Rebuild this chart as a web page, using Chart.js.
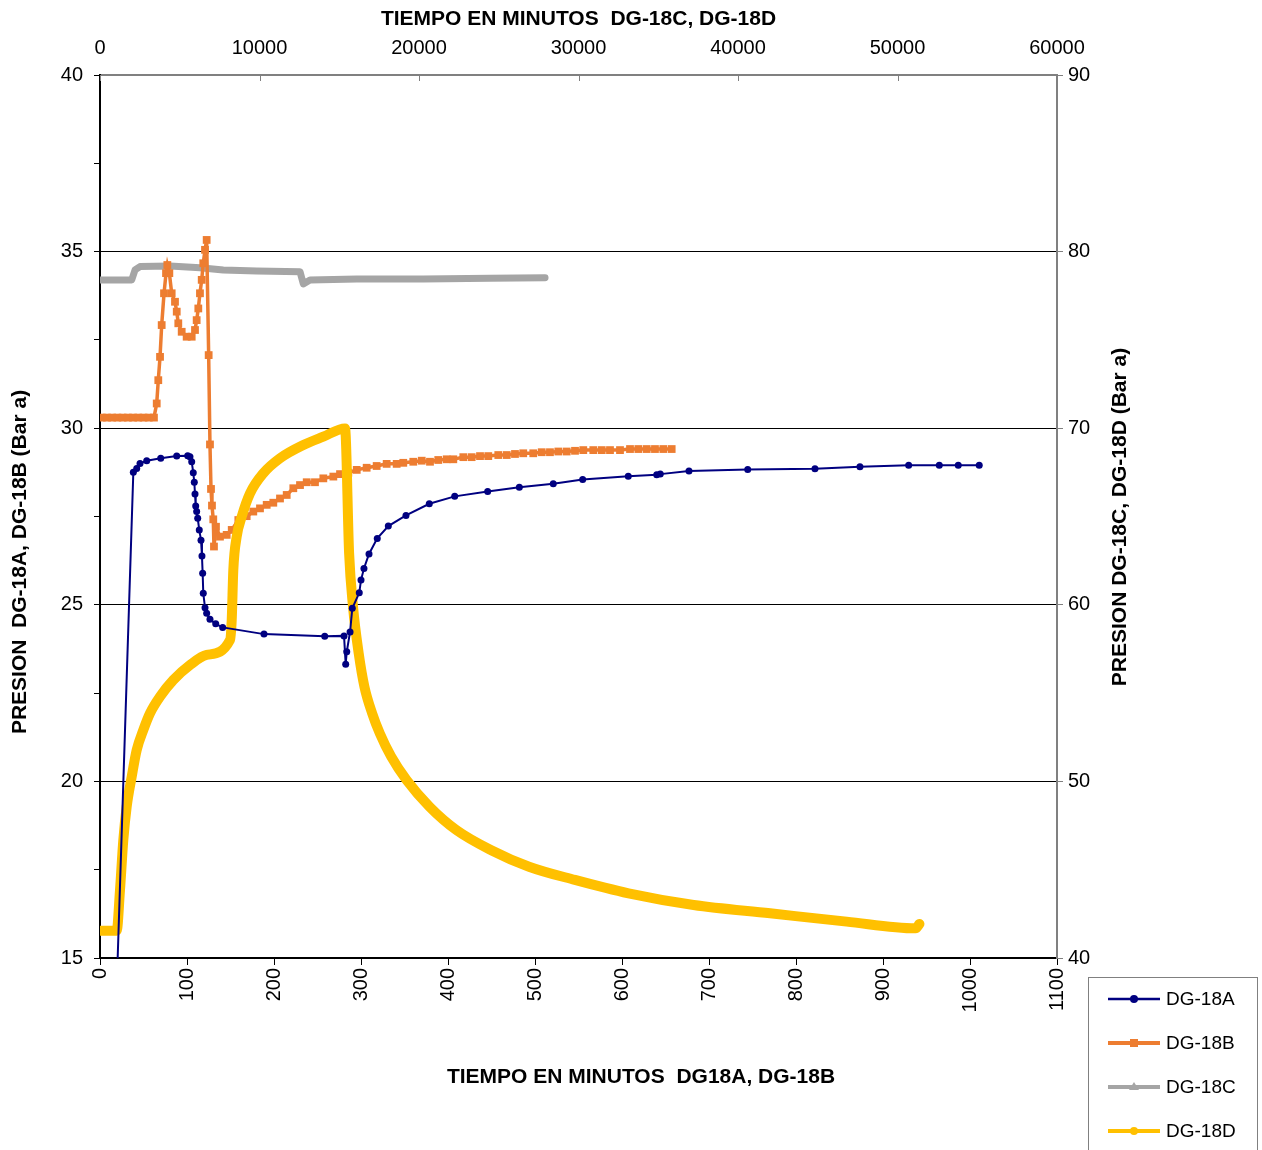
<!DOCTYPE html>
<html>
<head>
<meta charset="utf-8">
<script src="https://cdn.jsdelivr.net/npm/chart.js@4.4.1/dist/chart.umd.min.js"></script>
<style>
  body { margin: 0; background: #fff; }
  canvas { display: block; }
</style>
</head>
<body>
<canvas id="chart" width="1262" height="1150"></canvas>
<script>
// DG-18A / DG-18B : tiempo en minutos (eje inferior), presion eje izquierdo
var aTime = [19, 38.3, 42.2, 46.0, 53.7, 69.8, 88.2, 100.8, 103.4, 105.4, 107.2, 108.4, 109.2, 110.0, 111.1, 112.3,
  114.1, 116.1, 117.2, 118.0, 118.7, 120.7, 122.6, 126.4, 133.0, 141.0, 188.5, 258.3, 280.5, 282.4, 283.6, 287.4,
  290.0, 298.0, 300.0, 303.4, 309.2, 318.7, 331.4, 351.7, 378.5, 407.7, 445.6, 482.0, 521.0, 554.8, 607.2, 639.9,
  644.0, 677.0, 744.5, 821.8, 873.5, 929.5, 964.7, 986.5, 1010.6];
var aPres = [14.0, 28.75, 28.86, 29.0, 29.08, 29.15, 29.21, 29.22, 29.19, 29.05, 28.74, 28.47, 28.14, 27.80, 27.64, 27.45,
  27.12, 26.83, 26.38, 25.89, 25.33, 24.92, 24.76, 24.59, 24.46, 24.36, 24.17, 24.11, 24.12, 23.32, 23.67, 24.23,
  24.90, 25.34, 25.70, 26.03, 26.44, 26.88, 27.23, 27.53, 27.86, 28.07, 28.21, 28.33, 28.43, 28.55, 28.64, 28.68,
  28.70, 28.79, 28.83, 28.85, 28.91, 28.95, 28.95, 28.95, 28.95];

var bTime = [2, 8, 14, 20, 26, 32, 38, 44, 50, 56, 62, 65.2, 67.0, 69.0, 70.9, 73.6, 75.9, 77.4, 79.7, 82.4, 86.2, 88.2,
  90.0, 93.9, 99.6, 105.4, 109.2, 111.1, 113.0, 114.9, 116.9, 118.7, 120.7, 122.6, 124.9, 126.4, 127.6, 128.7,
  130.2, 131.0, 133.3, 137.9, 145.6, 151.4, 159.0, 168.6, 176.2, 183.9, 191.6, 199.2, 206.9, 214.6, 222.2, 229.9,
  237.6, 247.1, 256.7, 268.2, 275.9, 285.4, 295.1, 306.5, 318.0, 329.5, 341.0, 348.6, 360.1, 369.8, 379.3, 388.8,
  398.5, 406.1, 417.6, 427.2, 436.8, 446.3, 457.8, 467.5, 477.0, 486.5, 498.0, 507.7, 517.2, 526.8, 536.4, 546.0,
  555.5, 567.0, 576.7, 586.2, 597.7, 609.2, 618.8, 628.4, 637.9, 647.5, 657.1];
var bPres = [30.3, 30.3, 30.3, 30.3, 30.3, 30.3, 30.3, 30.3, 30.3, 30.3, 30.3, 30.70, 31.36, 32.02, 32.92, 33.82, 34.39,
  34.62, 34.39, 33.82, 33.58, 33.30, 32.97, 32.73, 32.59, 32.59, 32.78, 33.06, 33.39, 33.82, 34.20, 34.67, 35.05,
  35.33, 32.07, 29.54, 28.28, 27.81, 27.42, 26.65, 27.21, 26.93, 26.98, 27.12, 27.40, 27.51, 27.64, 27.73, 27.83,
  27.89, 28.01, 28.11, 28.30, 28.39, 28.47, 28.47, 28.58, 28.63, 28.70, 28.74, 28.82, 28.88, 28.93, 28.99, 28.99,
  29.02, 29.05, 29.08, 29.05, 29.10, 29.12, 29.12, 29.18, 29.18, 29.21, 29.21, 29.24, 29.24, 29.27, 29.29, 29.29,
  29.32, 29.32, 29.34, 29.34, 29.36, 29.38, 29.38, 29.38, 29.38, 29.38, 29.41, 29.41, 29.41, 29.41, 29.41, 29.41];

// DG-18C / DG-18D : tiempo en minutos (eje superior), presion eje derecho
var cTime = [0, 1988, 2195, 2508, 4389, 6270, 7731, 9825, 12540, 12747, 13167, 16095, 20271, 24453, 27902];
var cPres = [78.39, 78.39, 78.96, 79.15, 79.18, 79.09, 78.96, 78.90, 78.86, 78.17, 78.39, 78.45, 78.45, 78.49, 78.52];

var dTime = [0, 1047, 1254, 1461, 1674, 1988, 2301, 2715, 3135, 3762, 4596, 5643, 6690, 8151, 8258, 8358, 8571, 8885,
  9405, 10239, 11286, 12747, 14001, 15362, 15618, 15863, 16220, 16578, 17061, 17543, 18258, 19218, 20660, 22340,
  24497, 26898, 29776, 33137, 37219, 42015, 46812, 51132, 51376];
var dPres = [41.55, 41.55, 43.85, 46.68, 48.57, 50.27, 51.78, 52.91, 53.86, 54.80, 55.74, 56.59, 57.16, 58.01, 59.14,
  61.97, 63.86, 64.99, 66.31, 67.45, 68.30, 69.05, 69.52, 69.99, 62.92, 59.89, 57.25, 55.36, 53.86, 52.72, 51.40,
  50.08, 48.57, 47.25, 46.12, 45.17, 44.42, 43.66, 43.00, 42.53, 42.06, 41.68, 41.93];

var seriesNames = ['DG-18A', 'DG-18B', 'DG-18C', 'DG-18D'];
var seriesColors = ['#000080', '#ED7D31', '#A5A5A5', '#FFC000'];

var titleTop = 'TIEMPO EN MINUTOS  DG-18C, DG-18D';
var titleBottom = 'TIEMPO EN MINUTOS  DG18A, DG-18B';
var titleLeft = 'PRESION  DG-18A, DG-18B (Bar a)';
var titleRight = 'PRESION DG-18C, DG-18D (Bar a)';

function pts(xs, ys) {
  var out = [];
  for (var i = 0; i < xs.length; i++) out.push({x: xs[i], y: ys[i]});
  return out;
}

function plain(v) { return String(v); }

var FONT = '"Liberation Sans", Arial, sans-serif';

// titles, legend and the inner tick marks of the top axis
var extras = {
  id: 'extras',
  afterDraw: function(chart) {
    var ctx = chart.ctx;
    var xT = chart.scales.xT;
    ctx.save();
    ctx.strokeStyle = '#808080';
    ctx.lineWidth = 1;
    for (var v = 0; v <= 60000; v += 10000) {
      var px = Math.round(xT.getPixelForValue(v)) + 0.5;
      ctx.beginPath();
      ctx.moveTo(px, chart.chartArea.top);
      ctx.lineTo(px, chart.chartArea.top + 6);
      ctx.stroke();
    }

    ctx.fillStyle = '#000';
    ctx.font = 'bold 21px ' + FONT;
    ctx.textAlign = 'center';
    ctx.textBaseline = 'middle';
    ctx.fillText(titleTop, 578.5, 19);
    ctx.fillText(titleBottom, 641, 1077);
    ctx.save();
    ctx.translate(20, 562);
    ctx.rotate(-Math.PI / 2);
    ctx.fillText(titleLeft, 0, 0);
    ctx.restore();
    ctx.save();
    ctx.translate(1120, 517);
    ctx.rotate(-Math.PI / 2);
    ctx.fillText(titleRight, 0, 0);
    ctx.restore();

    // legend box
    ctx.strokeStyle = '#808080';
    ctx.lineWidth = 1;
    ctx.strokeRect(1088.5, 977.5, 169, 200);
    ctx.font = '19px ' + FONT;
    ctx.textAlign = 'left';
    for (var i = 0; i < 4; i++) {
      var y = 999 + i * 44;
      ctx.strokeStyle = seriesColors[i];
      ctx.lineWidth = i === 0 ? 2.5 : 4;
      ctx.beginPath();
      ctx.moveTo(1108, y);
      ctx.lineTo(1160, y);
      ctx.stroke();
      ctx.fillStyle = seriesColors[i];
      ctx.beginPath();
      if (i === 1) {
        ctx.rect(1130, y - 4, 8, 8);
      } else if (i === 2) {
        ctx.moveTo(1134, y - 5);
        ctx.lineTo(1139, y + 3);
        ctx.lineTo(1129, y + 3);
        ctx.closePath();
      } else {
        ctx.arc(1134, y, 4, 0, Math.PI * 2);
      }
      ctx.fill();
      ctx.fillStyle = '#000';
      ctx.fillText(seriesNames[i], 1166, y + 1);
    }
    ctx.restore();
  }
};

window.onload = function() {
  var ctx = document.getElementById('chart').getContext('2d');
  window.theChart = new Chart(ctx, {
    type: 'line',
    data: {
      datasets: [{
        label: seriesNames[0],
        data: pts(aTime, aPres),
        xAxisID: 'xB', yAxisID: 'yL',
        borderColor: seriesColors[0], backgroundColor: seriesColors[0],
        borderWidth: 2, pointRadius: 3.5, pointBorderWidth: 0,
        order: 0
      }, {
        label: seriesNames[1],
        data: pts(bTime, bPres),
        xAxisID: 'xB', yAxisID: 'yL',
        borderColor: seriesColors[1], backgroundColor: seriesColors[1],
        borderWidth: 3.5, pointStyle: 'rect', pointRadius: 5.5, pointBorderWidth: 0,
        order: 2
      }, {
        label: seriesNames[2],
        data: pts(cTime, cPres),
        xAxisID: 'xT', yAxisID: 'yR',
        borderColor: seriesColors[2], backgroundColor: seriesColors[2],
        borderWidth: 7, pointRadius: 0, borderJoinStyle: 'round', borderCapStyle: 'round',
        order: 3
      }, {
        label: seriesNames[3],
        data: pts(dTime, dPres),
        xAxisID: 'xT', yAxisID: 'yR',
        borderColor: seriesColors[3], backgroundColor: seriesColors[3],
        borderWidth: 10, pointRadius: 0, borderJoinStyle: 'round', borderCapStyle: 'round',
        cubicInterpolationMode: 'monotone',
        order: 1
      }]
    },
    options: {
      responsive: false,
      animation: false,
      devicePixelRatio: 1,
      layout: { padding: 0 },
      plugins: { legend: { display: false }, tooltip: { enabled: false } },
      elements: { line: { tension: 0 } },
      scales: {
        xB: {
          type: 'linear', position: 'bottom', min: 0, max: 1100,
          afterFit: function(s) { s.height = 192; },
          ticks: { stepSize: 100, minRotation: 90, maxRotation: 90, autoSkip: false, callback: plain,
                   color: '#000', font: { size: 20, family: FONT }, padding: 3 },
          grid: { drawOnChartArea: false, tickLength: 7, tickColor: '#000' },
          border: { color: '#000', width: 2 }
        },
        xT: {
          type: 'linear', position: 'top', min: 0, max: 60000,
          afterFit: function(s) { s.height = 75; },
          ticks: { stepSize: 10000, maxRotation: 0, autoSkip: false, callback: plain,
                   color: '#000', font: { size: 20, family: FONT }, padding: 15 },
          grid: { drawOnChartArea: false, drawTicks: false },
          border: { color: '#808080', width: 2 }
        },
        yL: {
          type: 'linear', position: 'left', min: 15, max: 40,
          afterFit: function(s) { s.width = 100; },
          ticks: { stepSize: 2.5, color: '#000', font: { size: 20, family: FONT }, padding: 11,
                   callback: function(v) { return v % 5 === 0 ? String(v) : ''; } },
          grid: {
            color: function(c) {
              var v = c.tick ? c.tick.value : 0;
              return (v % 5 === 0 && v > 15 && v < 40) ? '#000' : 'rgba(0,0,0,0)';
            },
            tickColor: '#000', tickLength: 6
          },
          border: { color: '#000', width: 2 }
        },
        yR: {
          type: 'linear', position: 'right', min: 40, max: 90,
          afterFit: function(s) { s.width = 205; },
          ticks: { stepSize: 10, callback: plain, color: '#000', font: { size: 20, family: FONT }, padding: 5 },
          grid: { drawOnChartArea: false, tickColor: '#808080', tickLength: 6 },
          border: { color: '#808080', width: 2 }
        }
      }
    },
    plugins: [extras]
  });
};
</script>
</body>
</html>
